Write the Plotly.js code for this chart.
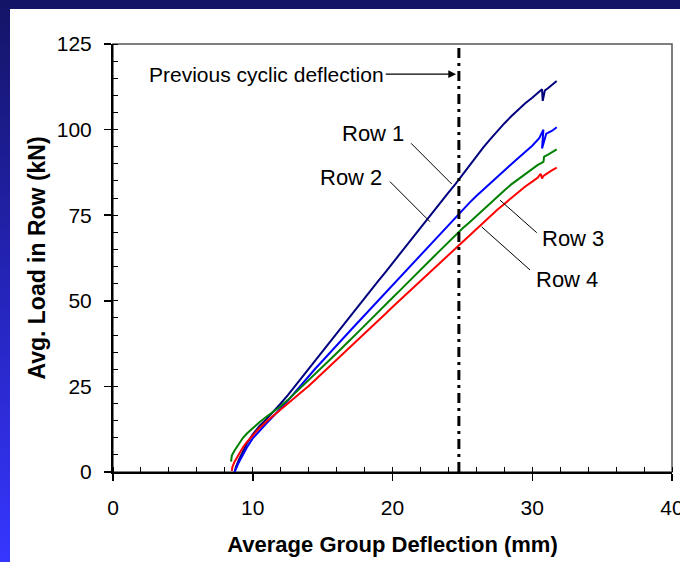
<!DOCTYPE html>
<html>
<head>
<meta charset="utf-8">
<script src="https://cdn.plot.ly/plotly-3.0.1.min.js"></script>
<style>
  html, body { margin: 0; padding: 0; }
  #bg { position: relative; width: 680px; height: 562px; background: linear-gradient(to bottom, #141466 0%, #2424b8 50%, #3636ff 100%); overflow: hidden; }
  #white { position: absolute; left: 10px; top: 9px; right: 0; bottom: 0; background: #ffffff; }
  #chart { position: absolute; left: 0; top: 0; width: 680px; height: 562px; }
</style>
</head>
<body>
<div id="bg"><div id="white"></div><div id="chart"></div></div>
<script>
// ---- Data ----
const seriesNames = ["Row 1", "Row 2", "Row 3", "Row 4"];

const row1X = [8.7, 8.8, 9.0, 9.3, 9.6, 10.0, 10.5, 11.0, 11.5, 12.0, 12.5, 13.0, 13.5, 14.0, 14.5, 15.0, 15.5, 16.0, 16.5, 17.0, 17.5, 18.0, 18.5, 19.0, 19.5, 20.0, 20.5, 21.0, 21.5, 22.0, 22.5, 23.0, 23.5, 24.0, 24.5, 25.0, 25.5, 26.0, 26.5, 27.0, 27.5, 28.0, 28.5, 29.0, 29.5, 30.0, 30.4, 30.7, 30.75, 30.9, 31.1, 31.4, 31.75];
const row1Y = [0, 1.5, 3.5, 6, 8.5, 11, 13.5, 15.5, 17.6, 20, 22.4, 25, 27.5, 30.1, 32.5, 35.2, 37.7, 40.4, 43.1, 45.5, 48.1, 50.8, 53.3, 55.9, 58.4, 61, 63.7, 66.2, 68.7, 71.4, 74, 76.5, 79.1, 81.6, 84.1, 86.8, 89.5, 92.2, 94.8, 97.2, 99.6, 101.8, 103.9, 105.8, 107.7, 109.3, 110.6, 111.8, 108.4, 111.4, 112.0, 113.0, 114.2];

const row2X = [8.7, 8.8, 9.0, 9.3, 9.6, 10.0, 10.5, 11.0, 11.5, 12.0, 12.5, 13.0, 13.5, 14.0, 14.5, 15.0, 15.5, 16.0, 16.5, 17.0, 17.5, 18.0, 18.5, 19.0, 19.5, 20.0, 20.5, 21.0, 21.5, 22.0, 22.5, 23.0, 23.5, 24.0, 24.5, 25.0, 25.5, 26.0, 26.5, 27.0, 27.5, 28.0, 28.5, 29.0, 29.5, 30.0, 30.5, 30.8, 30.7, 31.0, 31.4, 31.75];
const row2Y = [0, 1, 2.8, 5, 7.3, 9.8, 12.2, 14.3, 16.4, 18.5, 20.8, 23.2, 25.6, 28.1, 30.3, 32.5, 34.8, 37.0, 39.1, 41.4, 43.6, 45.8, 48.0, 50.2, 52.3, 54.6, 56.8, 59.0, 61.2, 63.4, 65.6, 67.8, 70.0, 72.3, 74.5, 76.6, 78.6, 80.6, 82.5, 84.4, 86.3, 88.1, 89.9, 91.7, 93.5, 95.3, 97.5, 100.0, 94.5, 98.8, 99.6, 100.7];

const row3X = [8.45, 8.5, 8.7, 9.0, 9.3, 9.6, 10.0, 10.5, 11.0, 11.5, 12.0, 12.5, 13.0, 13.5, 14.0, 14.5, 15.0, 15.5, 16.0, 16.5, 17.0, 17.5, 18.0, 18.5, 19.0, 19.5, 20.0, 20.5, 21.0, 21.5, 22.0, 22.5, 23.0, 23.5, 24.0, 24.5, 25.0, 25.5, 26.0, 26.5, 27.0, 27.5, 28.0, 28.5, 29.0, 29.5, 30.0, 30.4, 30.8, 30.85, 31.1, 31.4, 31.75];
const row3Y = [3, 4.8, 6.3, 8.3, 10.0, 11.3, 12.8, 14.6, 16.2, 17.7, 19.2, 21.0, 22.9, 24.8, 26.7, 28.7, 30.7, 32.7, 34.7, 36.6, 38.7, 40.7, 42.8, 44.8, 46.8, 48.9, 50.9, 52.9, 55.0, 57.0, 59.0, 61.1, 63.1, 65.1, 67.2, 69.2, 71.1, 72.9, 74.8, 76.6, 78.5, 80.4, 82.2, 84.0, 85.5, 87.0, 88.5, 89.7, 90.6, 92.1, 92.6, 93.3, 94.2];

const row4X = [8.5, 8.55, 8.7, 9.0, 9.3, 9.6, 10.0, 10.5, 11.0, 11.5, 12.0, 12.5, 13.0, 13.5, 14.0, 14.5, 15.0, 15.5, 16.0, 16.5, 17.0, 17.5, 18.0, 18.5, 19.0, 19.5, 20.0, 20.5, 21.0, 21.5, 22.0, 22.5, 23.0, 23.5, 24.0, 24.5, 25.0, 25.5, 26.0, 26.5, 27.0, 27.5, 28.0, 28.5, 29.0, 29.5, 30.0, 30.4, 30.6, 30.7, 30.8, 31.1, 31.4, 31.75];
const row4Y = [0.3, 1.5, 3.0, 5.2, 7.2, 8.9, 10.8, 12.9, 14.8, 16.5, 18.1, 19.8, 21.5, 23.3, 25.1, 27.0, 28.9, 30.8, 32.7, 34.7, 36.6, 38.5, 40.5, 42.4, 44.3, 46.2, 48.2, 50.1, 52.0, 53.9, 55.9, 57.8, 59.7, 61.6, 63.6, 65.5, 67.4, 69.2, 71.0, 72.8, 74.7, 76.6, 78.3, 80.0, 81.7, 83.4, 84.8, 86.0, 87.1, 85.7, 86.5, 87.4, 88.1, 88.9];

const seriesColors = ["#00007f", "#0000ff", "#008000", "#ff0000"];

const xTickVals = [0, 10, 20, 30, 40];
const yTickVals = [0, 25, 50, 75, 100, 125];
const previousCyclicDeflection = 24.75;
const xTitle = "Average Group Deflection (mm)";
const yTitle = "Avg. Load in Row (kN)";
const markerText = "Previous cyclic deflection";

// ---- Figure ----
const xs = [row1X, row2X, row3X, row4X];
const ys = [row1Y, row2Y, row3Y, row4Y];
const traces = seriesNames.map((n, i) => ({
  type: "scatter", mode: "lines", name: n,
  x: xs[i], y: ys[i],
  line: { color: seriesColors[i], width: 2 },
  hoverinfo: "skip"
}));

const FONT = "Liberation Sans, Arial, Helvetica, sans-serif";

const labelAnn = (text, x, y) => ({
  text: text, x: x, y: y, xref: "x", yref: "y", showarrow: false,
  font: { family: FONT, size: 22, color: "#000" }, xanchor: "center", yanchor: "middle"
});

const leader = (x0, y0, x1, y1) => ({
  type: "line", xref: "x", yref: "y", x0: x0, y0: y0, x1: x1, y1: y1,
  line: { color: "#000", width: 1 }
});

const layout = {
  width: 680, height: 562,
  paper_bgcolor: "rgba(0,0,0,0)", plot_bgcolor: "rgba(0,0,0,0)",
  margin: { l: 113, r: 8, t: 44, b: 90 },
  showlegend: false,
  font: { family: FONT, size: 21, color: "#000" },
  xaxis: {
    range: [0, 40], tickvals: xTickVals, ticktext: xTickVals.map(String),
    ticks: "outside", ticklen: 7, tickwidth: 1.5, tickcolor: "#000",
    showline: true, linecolor: "#000", linewidth: 2,
    showgrid: false, zeroline: false,
    minor: { ticks: "inside", dtick: 2, ticklen: 5, tickwidth: 1, tickcolor: "#000", showgrid: false },
    tickfont: { family: FONT, size: 21 }, ticklabelstandoff: 9, ticklabeloverflow: "allow",
    title: { text: "<b>" + xTitle + "</b>", font: { family: FONT, size: 22 }, standoff: 18 },
    fixedrange: true
  },
  yaxis: {
    range: [0, 125], tickvals: yTickVals, ticktext: yTickVals.map(String),
    ticks: "outside", ticklen: 7, tickwidth: 1.5, tickcolor: "#000",
    showline: true, linecolor: "#000", linewidth: 2,
    showgrid: false, zeroline: false,
    minor: { ticks: "inside", dtick: 5, ticklen: 5, tickwidth: 1, tickcolor: "#000", showgrid: false },
    tickfont: { family: FONT, size: 21 }, ticklabelstandoff: 8,
    title: { text: "<b>" + yTitle + "</b>", font: { family: FONT, size: 23 }, standoff: 5 },
    fixedrange: true
  },
  shapes: [
    { type: "rect", xref: "paper", yref: "paper", x0: 0, y0: 0, x1: 1, y1: 1,
      line: { color: "#555", width: 1.5 }, layer: "below" },
    { type: "line", xref: "x", yref: "y", x0: previousCyclicDeflection, x1: previousCyclicDeflection, y0: 0, y1: 125,
      line: { color: "#000", width: 3, dash: "10px,5px,3px,5px" } },
    leader(21.33, 96.0, 24.24, 84.1),
    leader(19.82, 84.8, 22.68, 73.1),
    leader(27.69, 79.4, 30.32, 69.9),
    leader(26.38, 71.6, 29.84, 59.0)
  ],
  annotations: [
    { text: markerText, x: 24.55, y: 116.2, xref: "x", yref: "y",
      ax: 11.0, ay: 116.2, axref: "x", ayref: "y",
      showarrow: true, arrowhead: 2, arrowsize: 1.2, arrowwidth: 1.3, arrowcolor: "#000",
      standoff: 0, startstandoff: 0,
      font: { family: FONT, size: 21, color: "#000" } },
    labelAnn(seriesNames[0], 18.63, 98.9),
    labelAnn(seriesNames[1], 17.03, 85.9),
    labelAnn(seriesNames[2], 32.9, 68.3),
    labelAnn(seriesNames[3], 32.5, 56.1)
  ]
};

Plotly.newPlot("chart", traces, layout, { displayModeBar: false, staticPlot: true });
</script>
</body>
</html>
